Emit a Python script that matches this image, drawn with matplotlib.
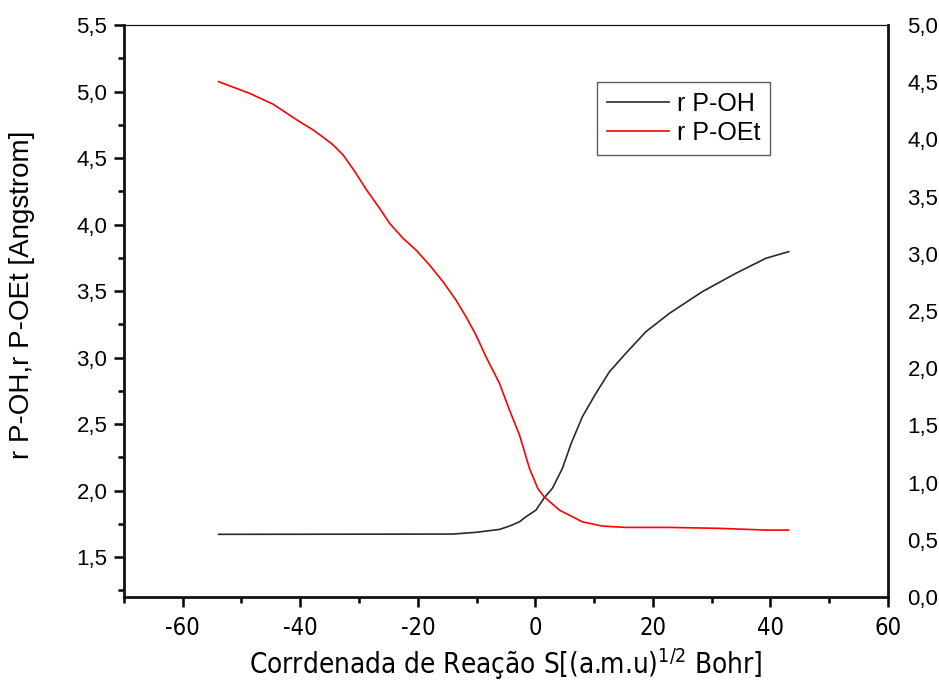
import numpy as np
import matplotlib
matplotlib.use("Agg")
import matplotlib.pyplot as plt
from matplotlib.ticker import MultipleLocator, FuncFormatter

# Reaction coordinate S and bond distances (Angstrom)
s_oet = [-53.9, -48.6, -44.6, -40.1, -37.8, -36.1, -34.4, -32.7, -30.7, -28.7,
         -26.5, -24.8, -22.5, -20.3, -18.0, -15.7, -13.5, -11.8, -10.1, -8.4,
         -6.1, -4.4, -2.7, -1.0, 0.4, 1.5, 4.1, 8.0, 11.4, 15.4,
         22.8, 31.2, 39.2, 43.1]
r_oet = [5.074, 4.986, 4.904, 4.773, 4.711, 4.656, 4.598, 4.523, 4.397, 4.259,
         4.122, 4.009, 3.896, 3.808, 3.695, 3.570, 3.432, 3.307, 3.169, 3.006,
         2.806, 2.605, 2.418, 2.167, 2.017, 1.953, 1.853, 1.765, 1.733, 1.723,
         1.723, 1.716, 1.703, 1.703]

s_oh = [-53.9, -14.0, -10.1, -6.1, -4.4, -2.7, -1.6, 0.1, 1.5, 2.9,
        4.6, 6.1, 8.0, 10.3, 12.6, 15.4, 18.8, 22.8, 28.4, 34.1,
        39.2, 43.1]
r_oh = [1.671, 1.673, 1.686, 1.708, 1.733, 1.765, 1.803, 1.853, 1.945, 2.017,
        2.167, 2.355, 2.555, 2.731, 2.893, 3.032, 3.194, 3.332, 3.495, 3.633,
        3.746, 3.796]

regular = ["Liberation Sans", "DejaVu Sans"]
narrow = ["Liberation Sans Narrow", "DejaVu Sans"]
plt.rcParams["font.family"] = regular
plt.rcParams["axes.unicode_minus"] = False

comma = FuncFormatter(lambda v, p: f"{v:.1f}".replace(".", ","))

fig = plt.figure(figsize=(9.39, 6.85), dpi=100)
ax = fig.add_axes([0.132, 0.1285, 0.8137, 0.835])

ax.plot(s_oh, r_oh, color="#2a2a2a", lw=1.2, label="r P-OH")
ax.plot(s_oet, r_oet, color="#ff0000", lw=1.2, label="r P-OEt")

ax.set_xlim(-70, 60)
ax.set_ylim(1.2, 5.5)
ax.xaxis.set_major_locator(MultipleLocator(20))
ax.xaxis.set_minor_locator(MultipleLocator(10))
ax.yaxis.set_major_locator(MultipleLocator(0.5))
ax.yaxis.set_minor_locator(MultipleLocator(0.25))
ax.yaxis.set_major_formatter(comma)

for side, w in [("left", 2.0), ("bottom", 2.0), ("right", 2.0), ("top", 0.9)]:
    ax.spines[side].set_linewidth(w)
    ax.spines[side].set_color("#111111")

ax.tick_params(axis="both", which="major", direction="out", length=7, width=1.8,
               labelsize=16, pad=5)
ax.tick_params(axis="both", which="minor", direction="out", length=4, width=1.8)
ax.tick_params(axis="x", which="major", pad=7)
for lab in ax.get_xticklabels():
    lab.set_family(narrow)
    lab.set_fontstretch("condensed")
    lab.set_fontsize(17)

ax.set_ylabel("r P-OH,r P-OEt [Angstrom]", fontsize=20)
ax.yaxis.set_label_coords(-0.117, 0.528)
ax.set_xlabel(r"Corrdenada de Reação S[(a.m.u)$^{\mathregular{1/2}}$ Bohr]",
              fontsize=20, family=narrow, fontstretch="condensed", labelpad=4)

# independent right-hand scale
ax2 = ax.twinx()
ax2.set_ylim(0, 5)
ax2.yaxis.set_major_locator(MultipleLocator(0.5))
ax2.yaxis.set_major_formatter(comma)
ax2.tick_params(axis="y", length=0, labelsize=16, pad=14)
for sp in ax2.spines.values():
    sp.set_visible(False)

leg = ax.legend(loc="upper left", bbox_to_anchor=(0.619, 0.900), fontsize=18,
                frameon=True, fancybox=False, edgecolor="#333333",
                handlelength=2.5, handletextpad=0.3, borderpad=0.4,
                labelspacing=0.2, borderaxespad=0)
leg.get_frame().set_linewidth(1.0)

fig.savefig("out.png", dpi=100)
